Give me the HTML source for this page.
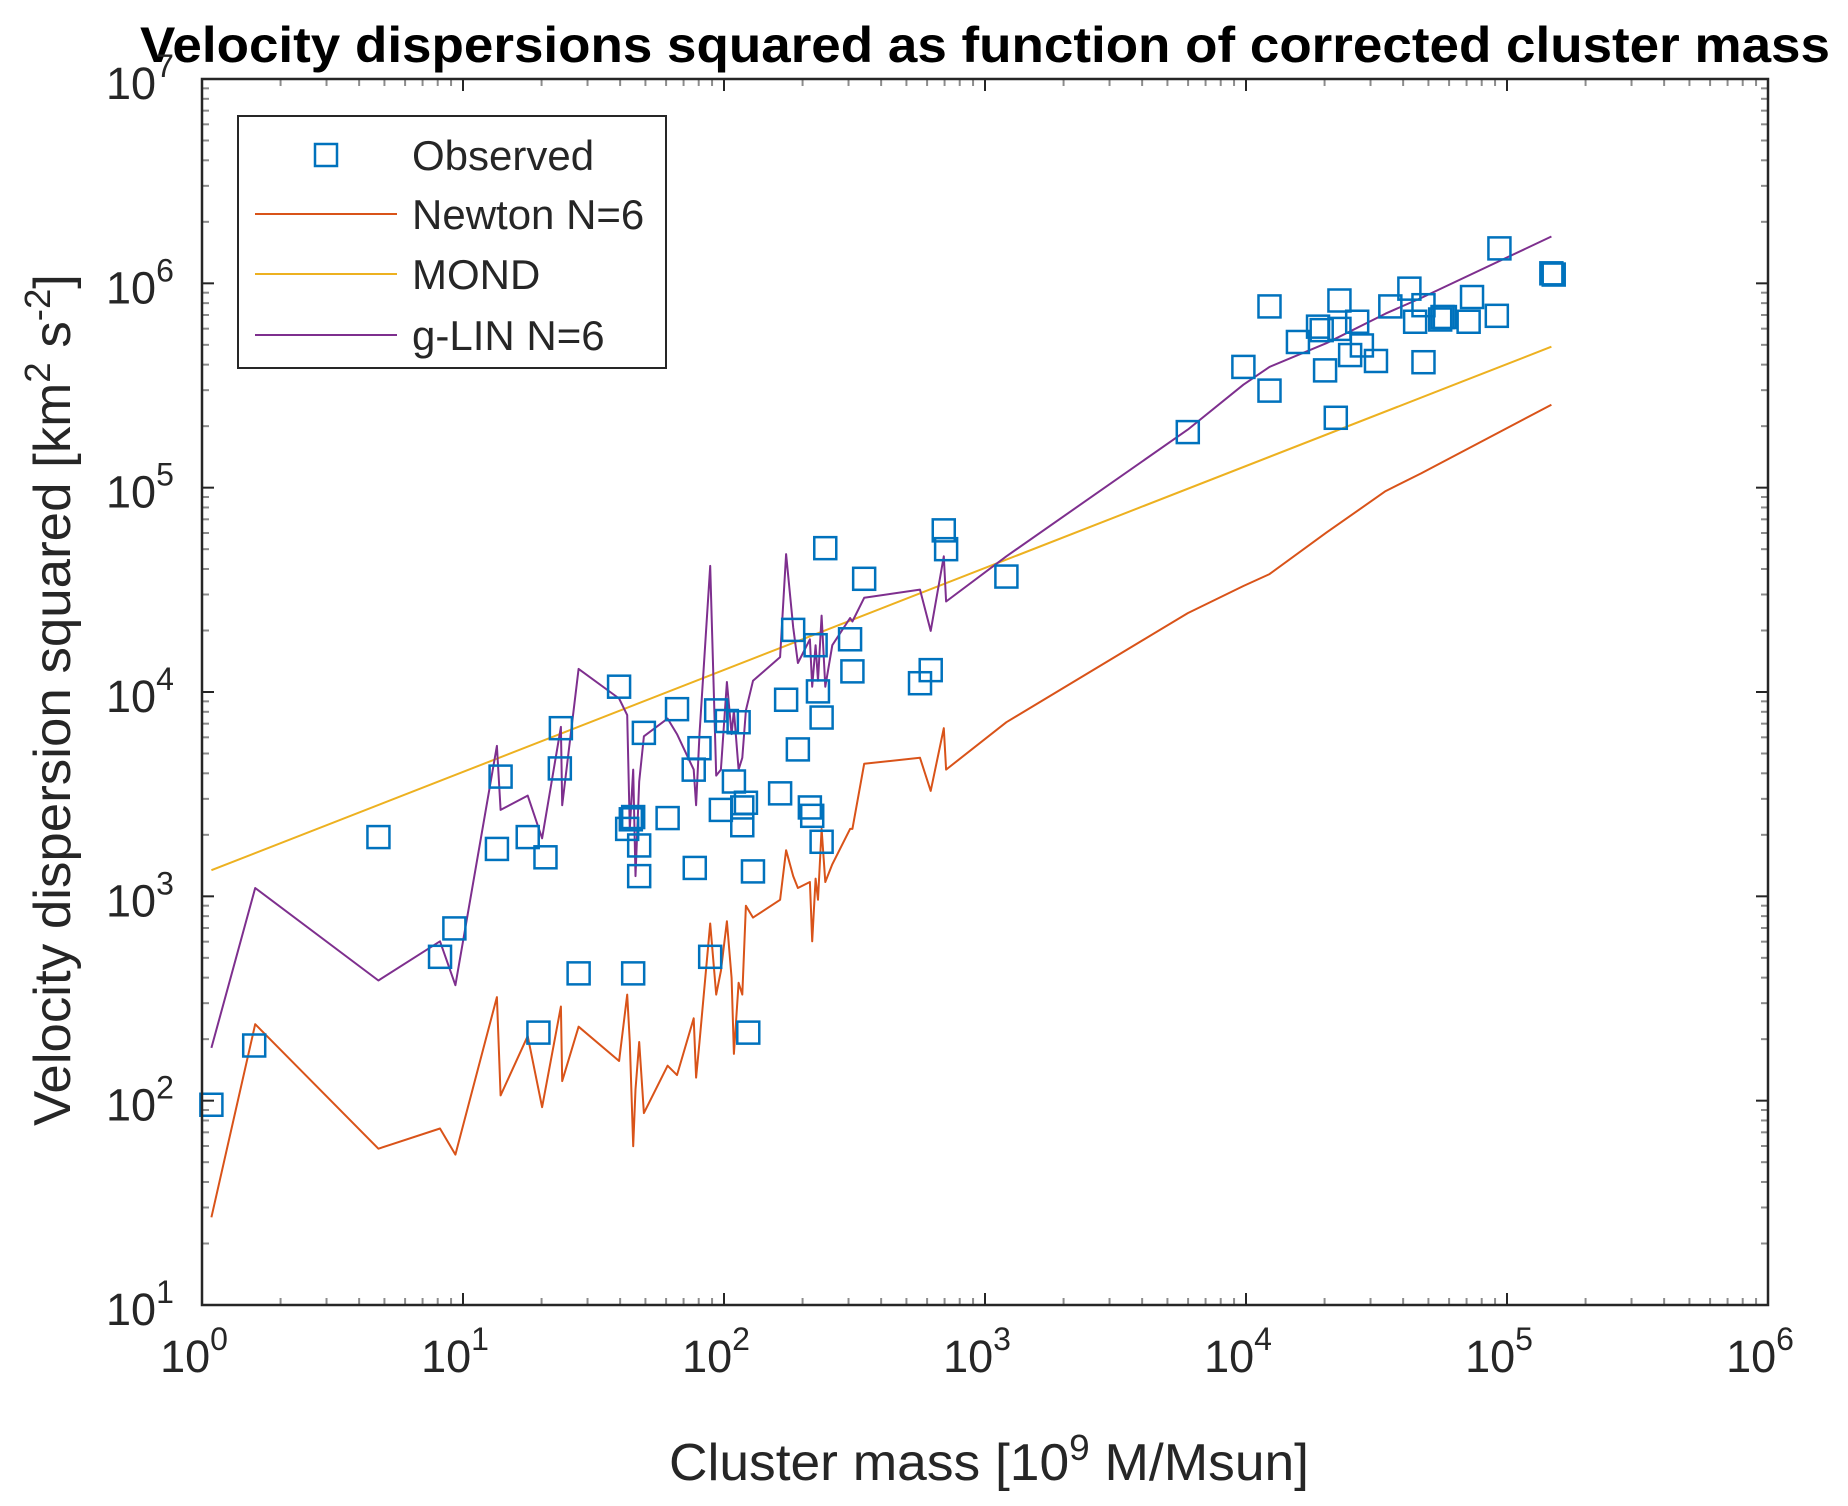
<!DOCTYPE html>
<html><head><meta charset="utf-8"><style>
html,body{margin:0;padding:0;background:#fff;}
svg{display:block;font-family:"Liberation Sans",Arial,sans-serif;}
</style></head><body>
<svg id="chart" width="1848" height="1506" viewBox="0 0 1848 1506">
<text x="985" y="62" text-anchor="middle" font-size="50" font-weight="bold" textLength="1690" lengthAdjust="spacingAndGlyphs">Velocity dispersions squared as function of corrected cluster mass</text>
<g id="ticks"></g>
<g id="series"></g>
<rect x="202" y="79" width="1566" height="1226" fill="none" stroke="#262626" stroke-width="2.5"/>
<text x="989" y="1480" text-anchor="middle" font-size="52" fill="#262626" textLength="640" lengthAdjust="spacingAndGlyphs">Cluster mass [10<tspan dy="-20" font-size="36">9</tspan><tspan dy="20"> M/Msun]</tspan></text>
<text transform="translate(70,700) rotate(-90)" text-anchor="middle" font-size="52" fill="#262626" textLength="852" lengthAdjust="spacingAndGlyphs">Velocity dispersion squared [km<tspan dy="-20" font-size="36">2</tspan><tspan dy="20"> s</tspan><tspan dy="-20" font-size="36">-2</tspan><tspan dy="20">]</tspan></text>
<g>
<rect x="238" y="116" width="428" height="252" fill="#fff" stroke="#262626" stroke-width="2"/>
<rect x="315" y="144" width="22" height="22" fill="none" stroke="#0072BD" stroke-width="2.5"/>
<text x="412" y="170" font-size="42" fill="#262626">Observed</text>
<line x1="255" y1="214" x2="397" y2="214" stroke="#D95319" stroke-width="2"/>
<text x="412" y="229" font-size="42" fill="#262626">Newton N=6</text>
<line x1="255" y1="274" x2="397" y2="274" stroke="#EDB120" stroke-width="2"/>
<text x="412" y="289" font-size="42" fill="#262626">MOND</text>
<line x1="255" y1="335" x2="397" y2="335" stroke="#7E2F8E" stroke-width="2"/>
<text x="412" y="350" font-size="42" fill="#262626">g-LIN N=6</text>
</g>
</svg>
<script>
// data stored as log10 values
const xDecades = [0,1,2,3,4,5,6];
const yDecades = [1,2,3,4,5,6,7];
const obsLogMass = [0.036,0.200,0.676,0.912,0.967,1.130,1.144,1.248,1.316,1.289,1.375,1.371,1.443,1.598,1.629,1.643,1.652,1.675,1.675,1.652,1.693,1.784,1.820,1.884,1.888,1.906,1.947,1.970,1.988,2.011,2.038,2.056,2.070,2.070,2.084,2.093,2.111,2.215,2.238,2.265,2.283,2.329,2.338,2.351,2.360,2.374,2.374,2.388,2.483,2.492,2.537,2.751,2.792,2.842,2.851,3.082,3.777,3.990,4.090,4.090,4.199,4.276,4.290,4.303,4.344,4.358,4.358,4.399,4.426,4.444,4.498,4.553,4.626,4.648,4.680,4.680,4.753,4.744,4.762,4.853,4.866,4.961,4.971,5.170,5.179];
const obsLogSigma2 = [1.980,2.270,3.290,2.704,2.843,3.232,3.586,3.290,3.191,2.333,3.823,3.626,2.623,4.026,3.330,3.377,3.388,3.249,3.099,2.623,3.800,3.383,3.916,3.620,3.139,3.725,2.704,3.910,3.423,3.858,3.562,3.852,3.348,3.435,3.458,2.333,3.122,3.504,3.962,4.304,3.719,3.435,3.394,4.229,4.003,3.875,3.267,4.704,4.258,4.101,4.554,4.043,4.107,4.791,4.699,4.565,5.272,5.591,5.887,5.475,5.713,5.788,5.771,5.574,5.342,5.916,5.777,5.649,5.812,5.696,5.620,5.887,5.974,5.812,5.893,5.614,5.835,5.823,5.835,5.812,5.933,5.841,6.171,6.049,6.043];
const lineLogMass = [0.036,0.204,0.676,0.912,0.971,1.130,1.144,1.248,1.303,1.375,1.380,1.443,1.598,1.629,1.639,1.652,1.661,1.675,1.693,1.784,1.820,1.884,1.893,1.906,1.947,1.970,1.988,2.011,2.029,2.038,2.056,2.070,2.084,2.111,2.215,2.238,2.265,2.283,2.329,2.338,2.351,2.360,2.374,2.388,2.415,2.483,2.492,2.537,2.751,2.792,2.842,2.851,3.082,3.777,3.990,4.090,4.308,4.535,4.671,5.170];
const glinLog = [2.258,3.041,2.588,2.780,2.565,3.736,3.423,3.493,3.284,3.829,3.446,4.113,3.968,3.887,3.330,3.620,3.099,3.562,3.783,3.870,3.794,3.620,3.446,3.794,4.617,3.591,3.620,4.049,3.794,3.910,3.620,3.678,3.910,4.055,4.171,4.675,4.316,4.142,4.258,4.026,4.229,4.055,4.374,4.026,4.229,4.362,4.345,4.461,4.501,4.299,4.664,4.443,4.664,5.284,5.504,5.591,5.707,5.852,5.928,6.229];
const newtonLog = [1.429,2.374,1.765,1.864,1.736,2.507,2.026,2.316,1.968,2.461,2.096,2.362,2.194,2.519,2.287,1.777,2.055,2.287,1.939,2.171,2.125,2.403,2.113,2.287,2.867,2.519,2.635,2.878,2.600,2.229,2.577,2.519,2.954,2.896,2.983,3.226,3.099,3.041,3.070,2.780,3.087,2.983,3.330,3.070,3.157,3.330,3.330,3.649,3.678,3.516,3.823,3.620,3.852,4.386,4.519,4.577,4.780,4.983,5.070,5.406];
const mondLogMass = [0.036,5.170];
const mondLog = [3.128,5.690];

const X0=202,X1=1768,YT=79,YB=1305;
const sx = v => X0 + (v-0)/(6-0)*(X1-X0);
const sy = v => YB - (v-1)/(7-1)*(YB-YT);
const NS='http://www.w3.org/2000/svg';
const ticks=document.getElementById('ticks'), series=document.getElementById('series'), svg=document.getElementById('chart');
function mk(tag,attrs,parent){const e=document.createElementNS(NS,tag);for(const k in attrs)e.setAttribute(k,attrs[k]);parent.appendChild(e);return e;}

xDecades.forEach((d,i)=>{
  const x=sx(d);
  const t1=mk('line',{x1:x,y1:YB,x2:x,y2:YB-12,stroke:'#262626','stroke-width':2},ticks);
  
  
  const t2=mk('line',{x1:x,y1:YT,x2:x,y2:YT+12,stroke:'#262626','stroke-width':2},ticks);
  
  
  const lab=mk('text',{x:x-8,y:1372,'text-anchor':'middle','font-size':45,fill:'#262626'},svg);
  
  
  lab.innerHTML='10<tspan dy="-22" font-size="32">'+d+'</tspan>';
  if(i<xDecades.length-1){for(let m=2;m<=9;m++){const mx=sx(d+Math.log10(m));
    const a=mk('line',{x1:mx,y1:YB,x2:mx,y2:YB-7,stroke:'#8c8c8c','stroke-width':2},ticks);
    
    
    const b=mk('line',{x1:mx,y1:YT,x2:mx,y2:YT+7,stroke:'#8c8c8c','stroke-width':2},ticks);
    
    }}
});
yDecades.forEach((d,i)=>{
  const y=sy(d);
  const t1=mk('line',{x1:X0,y1:y,x2:X0+12,y2:y,stroke:'#262626','stroke-width':2},ticks);
  
  
  const t2=mk('line',{x1:X1,y1:y,x2:X1-12,y2:y,stroke:'#262626','stroke-width':2},ticks);
  
  
  const lab=mk('text',{x:106,y:y+20,'text-anchor':'start','font-size':45,fill:'#262626'},svg);
  
  
  lab.innerHTML='10<tspan dy="-22" font-size="32">'+d+'</tspan>';
  if(i<yDecades.length-1){for(let m=2;m<=9;m++){const my=sy(d+Math.log10(m));
    const a=mk('line',{x1:X0,y1:my,x2:X0+7,y2:my,stroke:'#8c8c8c','stroke-width':2},ticks);
    
    
    const b=mk('line',{x1:X1,y1:my,x2:X1-7,y2:my,stroke:'#8c8c8c','stroke-width':2},ticks);
    
    }}
});

function poly(xs,ys,color,name){
  const pts=xs.map((v,i)=>sx(v).toFixed(1)+','+sy(ys[i]).toFixed(1)).join(' ');
  const p=mk('polyline',{points:pts,fill:'none',stroke:color,'stroke-width':2,'stroke-linejoin':'round'},series);
  
  
}
poly(lineLogMass,newtonLog,'#D95319','newton-line');
poly(mondLogMass,mondLog,'#EDB120','mond-line');
poly(lineLogMass,glinLog,'#7E2F8E','glin-line');
obsLogMass.forEach((v,i)=>{
  const r=mk('rect',{x:sx(v)-11,y:sy(obsLogSigma2[i])-11,width:22,height:22,fill:'none',stroke:'#0072BD','stroke-width':2.5},series);
  
  
});
</script>
</body></html>
